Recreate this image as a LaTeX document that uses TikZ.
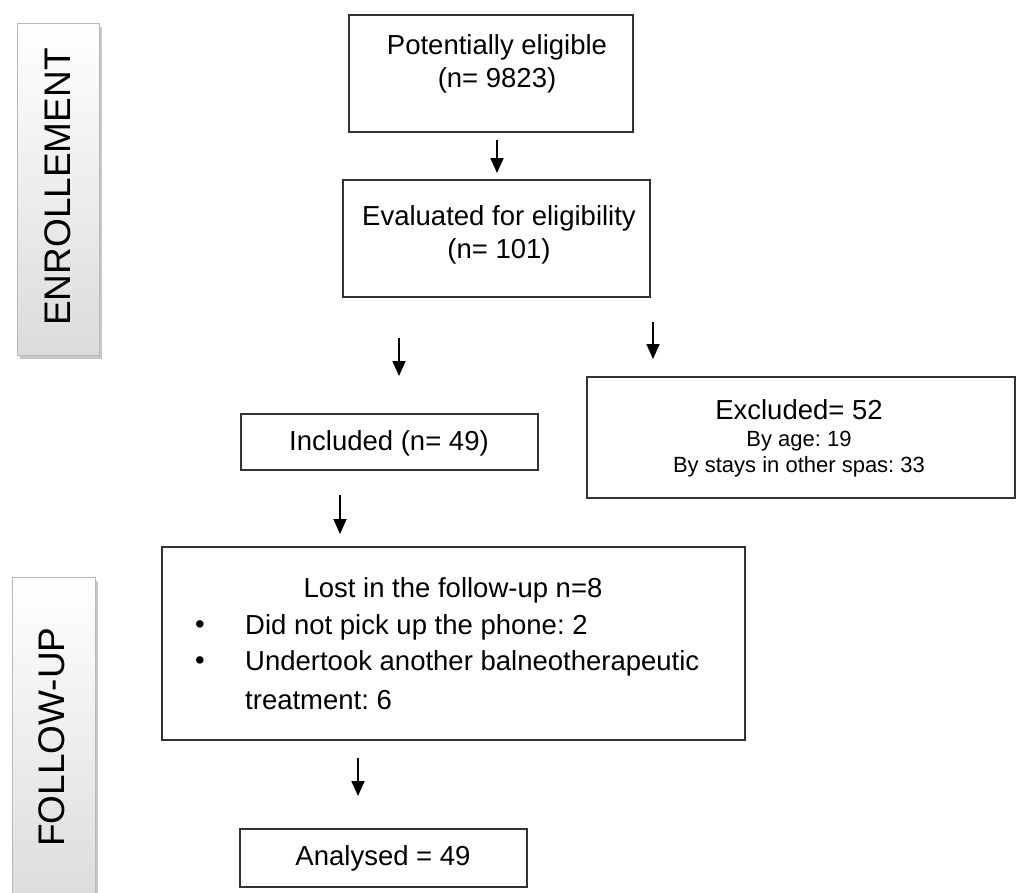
\documentclass[tikz,border=0pt]{standalone}
\usepackage{fontspec}
\setmainfont{Liberation Sans}
\usetikzlibrary{arrows.meta,shadows}
\frenchspacing
\begin{document}
\begin{tikzpicture}[x=1pt,y=-1pt,
  flowbox/.style={draw=black!80, line width=1.4pt, fill=white, rectangle, inner sep=0pt},
  phasebox/.style={draw=gray!55, line width=1pt, rectangle, inner sep=0pt,
     top color=white, bottom color=gray!28,
     drop shadow={shadow xshift=3pt, shadow yshift=-4pt, fill=gray!55, opacity=0.8}},
  phasetext/.style={rotate=90, font=\fontsize{37}{42}\selectfont, inner sep=0pt},
  maintext/.style={font=\fontsize{27.5}{33}\selectfont, align=center, inner sep=0pt},
  smalltext/.style={font=\fontsize{22}{26}\selectfont, align=center, inner sep=0pt},
  flowarrow/.style={line width=1.8pt, -{Triangle[width=13pt,length=15pt]}}
]
\useasboundingbox (0,0) rectangle (1017,892);
\fill[white] (0,0) rectangle (1017,892);

% phase labels
\node[phasebox, minimum width=82pt, minimum height=332pt] (enr) at (58,189) {};
\node[phasetext] (enrt) at (58,187) {ENROLLEMENT};
\node[phasebox, minimum width=83pt, minimum height=330pt] (fol) at (53.5,742) {};
\node[phasetext] (folt) at (52,737) {FOLLOW-UP};

% boxes
\node[flowbox, minimum width=284pt, minimum height=117pt] (b1) at (491,73.5) {};
\node[maintext] (b1t) at (497,63.5) {Potentially eligible\\(n= 9823)};

\node[flowbox, minimum width=307pt, minimum height=117pt] (b2) at (496.5,238.5) {};
\node[maintext] (b2t) at (499,235) {Evaluated for eligibility\\(n= 101)};

\node[flowbox, minimum width=297pt, minimum height=56pt] (inc) at (389.5,442) {};
\node[maintext] (inct) at (389,443) {Included (n= 49)};

\node[flowbox, minimum width=428pt, minimum height=121pt] (exc) at (801,437.5) {};
\node[maintext] (exct) at (799,410) {Excluded= 52};
\node[smalltext] (exct2) at (799,454) {By age: 19\\By stays in other spas: 33};

\node[flowbox, minimum width=583pt, minimum height=193pt] (lost) at (453.5,643.5) {};
\node[maintext] (lost1) at (453,590) {Lost in the follow-up n=8};
\node[maintext] (bul1) at (200,627) {•};
\node[maintext] (bul2) at (200,663) {•};
\node[maintext, anchor=west] (lost2) at (245,627) {Did not pick up the phone: 2};
\node[maintext, anchor=west] (lost3) at (245,663) {Undertook another balneotherapeutic};
\node[maintext, anchor=west] (lost4) at (245,700) {treatment: 6};

\node[flowbox, minimum width=287pt, minimum height=58pt] (ana) at (383.5,858) {};
\node[maintext] (anat) at (383,858) {Analysed = 49};

% arrow anchors
\coordinate (a1s) at (497,140); \coordinate (a1e) at (497,173);
\coordinate (a2s) at (399,338); \coordinate (a2e) at (399,376);
\coordinate (a3s) at (653,322); \coordinate (a3e) at (653,359);
\coordinate (a4s) at (340,495); \coordinate (a4e) at (340,534);
\coordinate (a5s) at (358,758); \coordinate (a5e) at (358,796);

\draw[flowarrow] (a1s) -- (a1e);
\draw[flowarrow] (a2s) -- (a2e);
\draw[flowarrow] (a3s) -- (a3e);
\draw[flowarrow] (a4s) -- (a4e);
\draw[flowarrow] (a5s) -- (a5e);
\end{tikzpicture}
\end{document}
